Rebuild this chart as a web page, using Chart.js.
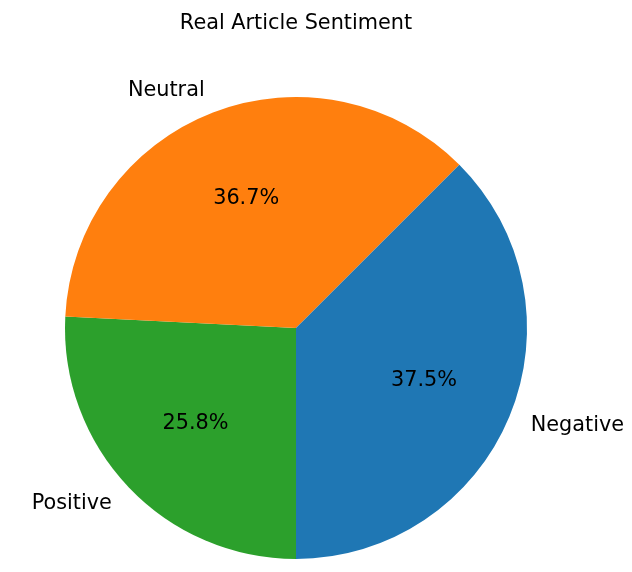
<!DOCTYPE html>
<html>
<head>
<meta charset="utf-8">
<script src="https://cdn.jsdelivr.net/npm/chart.js@4/dist/chart.umd.min.js"></script>
<style>
  body { margin: 0; background: #fff; }
  canvas { display: block; }
</style>
</head>
<body>
<canvas id="pie-chart" width="632" height="572"></canvas>
<script>
// orden al reves porque chart.js dibuja en sentido horario
var etiquetas = ['Positive', 'Neutral', 'Negative'];
var porcentajes = [25.8, 36.7, 37.5];
var colores = ['#2ca02c', '#ff7f0e', '#1f77b4'];
var titulo = 'Real Article Sentiment';

var FUENTE = '20.8px "DejaVu Sans"';

// pinta titulo, etiquetas de afuera y porcentajes como matplotlib
var textoPie = {
    id: 'textoPie',
    afterDraw: function (chart) {
        var ctx = chart.ctx;
        var arcos = chart.getDatasetMeta(0).data;
        ctx.save();
        ctx.fillStyle = '#000';
        ctx.font = FUENTE;

        ctx.textAlign = 'center';
        ctx.textBaseline = 'alphabetic';
        ctx.fillText(titulo, 296, 29);

        ctx.textBaseline = 'middle';
        for (var i = 0; i < arcos.length; i++) {
            var a = arcos[i];
            var medio = (a.startAngle + a.endAngle) / 2;
            var c = Math.cos(medio), s = Math.sin(medio);
            var r = a.outerRadius;
            ctx.textAlign = c >= 0 ? 'left' : 'right';
            ctx.fillText(etiquetas[i], a.x + c * r * 1.1, a.y + s * r * 1.1);
            ctx.textAlign = 'center';
            ctx.fillText(porcentajes[i].toFixed(1) + '%', a.x + c * r * 0.6, a.y + s * r * 0.6);
        }
        ctx.restore();
    }
};

new Chart(document.getElementById('pie-chart'), {
    type: 'pie',
    data: {
        labels: etiquetas,
        datasets: [{
            data: porcentajes,
            backgroundColor: colores,
            borderWidth: 0
        }]
    },
    options: {
        responsive: false,
        animation: false,
        rotation: 180,
        layout: { padding: { left: 65, right: 105, top: 97, bottom: 13 } },
        plugins: {
            legend: { display: false },
            tooltip: { enabled: false },
            title: { display: false }
        }
    },
    plugins: [textoPie]
});
</script>
</body>
</html>
